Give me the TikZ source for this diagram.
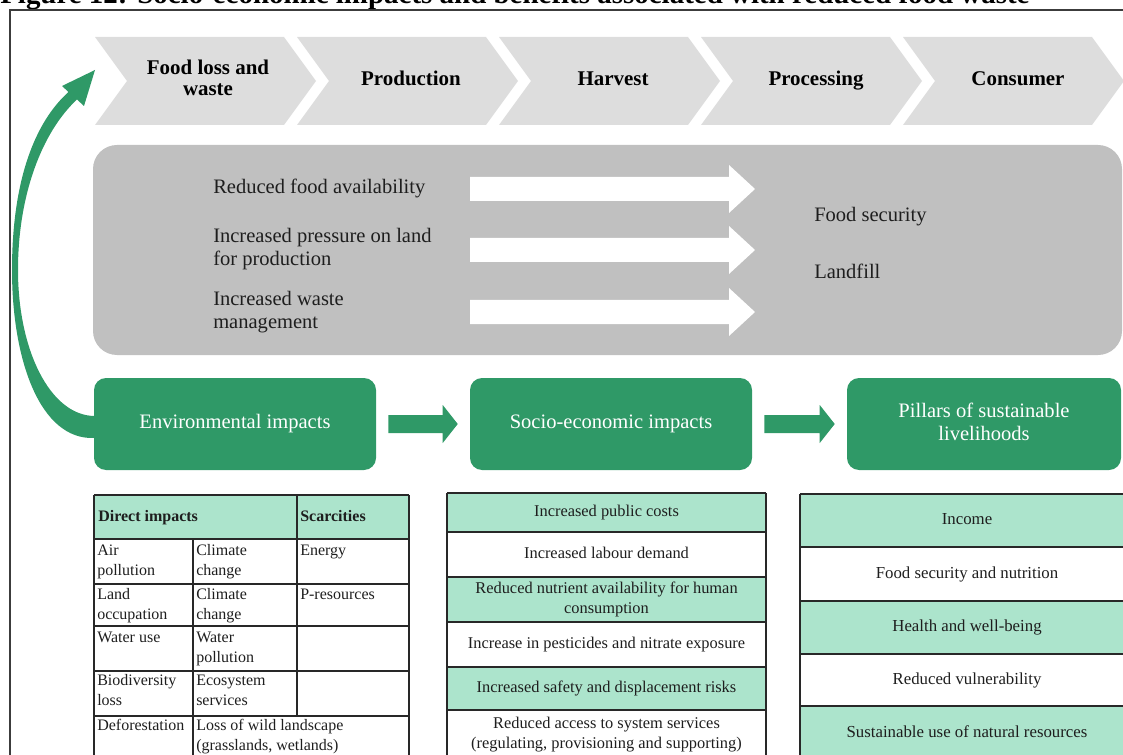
\documentclass[tikz,border=0pt]{standalone}
\usepackage{fontspec}
\usepackage{graphicx}
\setmainfont{Liberation Serif}
\usetikzlibrary{calc}
\definecolor{chevfill}{RGB}{221,221,221}
\definecolor{panelfill}{RGB}{192,192,192}
\definecolor{leaf}{RGB}{47,153,103}
\definecolor{mint}{RGB}{172,228,204}
\definecolor{ink}{RGB}{30,30,30}
\definecolor{rule}{RGB}{40,40,40}
\definecolor{framecol}{RGB}{60,60,60}
\begin{document}
\begin{tikzpicture}[x=0.75pt,y=-0.75pt,
  chevtext/.style={align=center, inner sep=0, text=black,
    font=\fontsize{15.7}{15.75}\selectfont\bfseries},
  paneltext/.style={anchor=north west, align=left, inner sep=0, text=ink,
    font=\fontsize{15.4}{17.25}\selectfont},
  greenbox/.style={fill=leaf, rounded corners=9pt, minimum height=69pt,
    inner sep=0, text=white, align=center,
    font=\fontsize{15.4}{17.25}\selectfont},
  blockarrow/.style={fill=leaf},
  tline/.style={draw=rule, line width=0.9pt},
  celltext/.style={anchor=north west, align=left, inner sep=0, text=ink,
    font=\fontsize{12}{15}\selectfont},
  midcell/.style={align=center, inner sep=0, text=ink,
    font=\fontsize{12.3}{15}\selectfont},
  rightcell/.style={align=center, inner sep=0, text=ink,
    font=\fontsize{12.6}{15}\selectfont}
]
\useasboundingbox (0,0) rectangle (1123,755);
\clip (0,0) rectangle (1123,755);

% caption line running off the top edge
\node[anchor=base west, inner sep=0] (caption) at (0,3.5)
  {\resizebox{772pt}{!}{\bfseries Figure 12: Socio-economic impacts and benefits associated with reduced food waste}};

% outer frame
\draw[framecol, line width=1.1pt] (10,770) -- (10,10) -- (1140,10);

% value-chain chevrons
\foreach \i in {0,...,4} {
  \pgfmathsetmacro{\xa}{95+202*\i}
  \fill[chevfill] (\xa,37) -- ({\xa+189},37) -- ({\xa+221},81) -- ({\xa+189},125)
    -- (\xa,125) -- ({\xa+32},81) -- cycle;
}
\node[chevtext] (flw)  at (208,81) {\strut Food loss and\\waste\strut};
\node[chevtext] (prod) at (411,81) {\strut Production};
\node[chevtext] (harv) at (613,81) {\strut Harvest};
\node[chevtext] (proc) at (816,81) {\strut Processing};
\node[chevtext] (cons) at (1018,81) {\strut Consumer};

% grey consequences panel
\fill[panelfill, rounded corners=18pt] (93,145) rectangle (1122,355);
\node[paneltext] (rfa) at (213,177) {\strut Reduced food availability};
\node[paneltext] (ipl) at (213,226) {\strut Increased pressure on land\\for production};
\node[paneltext] (iwm) at (213,289) {\strut Increased waste\\management};
\node[paneltext] (fsec) at (814,205) {\strut Food security};
\node[paneltext] (lfill) at (814,262) {\strut Landfill};

% white arrows inside the panel
\foreach \c in {189,250,312} {
  \fill[white] (470,{\c-12}) -- (729,{\c-12}) -- (729,{\c-24}) -- (755,\c)
    -- (729,{\c+24}) -- (729,{\c+12}) -- (470,{\c+12}) -- cycle;
}

% impact boxes
\node[greenbox, minimum width=211.5pt] (env) at (235,424) {\strut Environmental impacts};
\node[greenbox, minimum width=211.5pt] (soc) at (611,424) {\strut Socio-economic impacts};
\node[greenbox, minimum width=205.5pt] (pil) at (984,424) {\strut Pillars of sustainable\\livelihoods\strut};

% block arrows between the boxes
\coordinate (a1) at ($(env.east)+(12,0)$);
\coordinate (b1) at ($(soc.west)+(-12,0)$);
\coordinate (a2) at ($(soc.east)+(12,0)$);
\coordinate (b2) at ($(pil.west)+(-12,0)$);
\fill[blockarrow] ($(a1)+(0,-9)$) -- ($(b1)+(-15,-9)$) -- ($(b1)+(-15,-19)$) -- (b1)
  -- ($(b1)+(-15,19)$) -- ($(b1)+(-15,9)$) -- ($(a1)+(0,9)$) -- cycle;
\fill[blockarrow] ($(a2)+(0,-9)$) -- ($(b2)+(-15,-9)$) -- ($(b2)+(-15,-19)$) -- (b2)
  -- ($(b2)+(-15,19)$) -- ($(b2)+(-15,9)$) -- ($(a2)+(0,9)$) -- cycle;

% feedback arrow from environmental impacts back to the start of the chain
\fill[leaf] (94,438) .. controls (40,440) and (12,360) .. (12,270)
  .. controls (12,180) and (35,122) .. (68.5,92)
  -- (62,86) -- (95,70) -- (84,106) -- (77,99.5)
  .. controls (42,132) and (18,195) .. (18,270)
  .. controls (18,350) and (50,415) .. (94,416) -- cycle;

% ---------- table: environmental impacts ----------
\fill[mint] (94,495) rectangle (409,539);
\foreach \y in {495,539,584,626,671,716} \draw[tline] (94,\y) -- (409,\y);
\draw[tline] (94,495) -- (94,770);
\draw[tline] (409,495) -- (409,770);
\draw[tline] (193,539) -- (193,770);
\draw[tline] (297,495) -- (297,716);
\node[celltext, font=\fontsize{12}{15}\selectfont\bfseries] (hdi) at (98,507) {\strut Direct impacts};
\node[celltext, font=\fontsize{12}{15}\selectfont\bfseries] (hsc) at (300,507) {\strut Scarcities};
\node[celltext] (c11) at (97,541) {\strut Air\\pollution};
\node[celltext] (c12) at (196,541) {\strut Climate\\change};
\node[celltext] (c13) at (300,541) {\strut Energy};
\node[celltext] (c21) at (97,585) {\strut Land\\occupation};
\node[celltext] (c22) at (196,585) {\strut Climate\\change};
\node[celltext] (c23) at (300,585) {\strut P-resources};
\node[celltext] (c31) at (97,628) {\strut Water use};
\node[celltext] (c32) at (196,628) {\strut Water\\pollution};
\node[celltext] (c41) at (97,671) {\strut Biodiversity\\loss};
\node[celltext] (c42) at (196,671) {\strut Ecosystem\\services};
\node[celltext] (c51) at (97,716) {\strut Deforestation};
\node[celltext] (c52) at (196,716) {\strut Loss of wild landscape\\(grasslands, wetlands)};

% ---------- table: socio-economic impacts ----------
\fill[mint] (447,493) rectangle (766,532);
\fill[mint] (447,577) rectangle (766,622);
\fill[mint] (447,667) rectangle (766,710);
\foreach \y in {493,532,577,622,667,710} \draw[tline] (447,\y) -- (766,\y);
\draw[tline] (447,493) -- (447,770);
\draw[tline] (766,493) -- (766,770);
\node[midcell] (s1) at (606.5,512.5) {\strut Increased public costs};
\node[midcell] (s2) at (606.5,554.5) {\strut Increased labour demand};
\node[midcell] (s3) at (606.5,599.5) {\strut Reduced nutrient availability for human\\consumption\strut};
\node[midcell] (s4) at (606.5,644.5) {\strut Increase in pesticides and nitrate exposure};
\node[midcell] (s5) at (606.5,688.5) {\strut Increased safety and displacement risks};
\node[midcell] (s6) at (606.5,734) {\strut Reduced access to system services\\(regulating, provisioning and supporting)\strut};

% ---------- table: pillars of sustainable livelihoods ----------
\fill[mint] (800,494) rectangle (1140,547);
\fill[mint] (800,601) rectangle (1140,654);
\fill[mint] (800,706) rectangle (1140,770);
\foreach \y in {494,547,601,654,706} \draw[tline] (800,\y) -- (1140,\y);
\draw[tline] (800,494) -- (800,770);
\node[rightcell] (p1) at (967,520.5) {\strut Income};
\node[rightcell] (p2) at (967,574) {\strut Food security and nutrition};
\node[rightcell] (p3) at (967,627.5) {\strut Health and well-being};
\node[rightcell] (p4) at (967,680) {\strut Reduced vulnerability};
\node[rightcell] (p5) at (967,733) {\strut Sustainable use of natural resources};
\end{tikzpicture}
\end{document}
